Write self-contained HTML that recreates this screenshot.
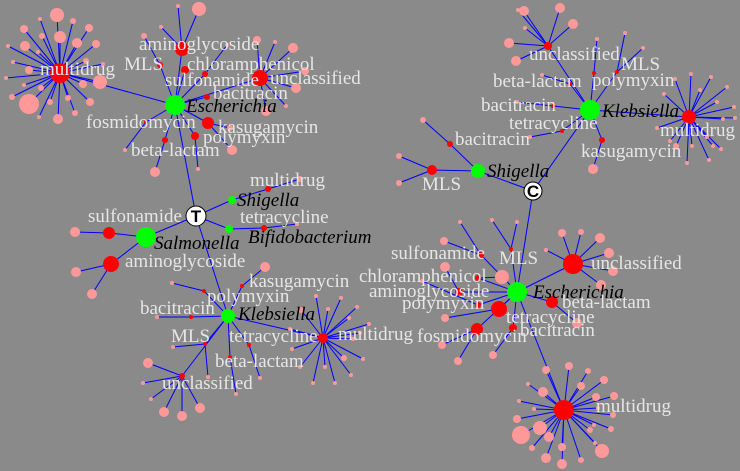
<!DOCTYPE html>
<html><head><meta charset="utf-8"><style>
html,body{margin:0;padding:0;background:#8a8a8a;}
svg{display:block;}
text{font-family:"Liberation Serif",serif;font-size:19px;}
</style></head><body>
<svg id="net" width="740" height="471" viewBox="0 0 740 471">
<rect width="740" height="471" fill="#8a8a8a"/>
<g id="edges"></g><g id="nodes"></g><g id="labels"></g>
</svg>
<script>
// hubs: [id, x, y, r, label]
const hubs = [["T",196,216,10,"T"],["C",533,191,9,"C"]];
// genera: [id, x, y, r, hub]
const genera = [
["tEsch",175,105,10,"T"],["tShig",232,200,4,"T"],["tBifi",229,229,4,"T"],["tSalm",146,237,10,"T"],["tKleb",228,316,7,"T"],
["cShig",478,171,7,"C"],["cKleb",590,110,10,"C"],["cEsch",517,292,10,"C"]];
// resistance classes: [x, y, r, genus, leaves [[x,y,r],...]]
const classes = [
[60,73,10,"tEsch",[[57,15,7],[40,19,2],[73,21,3],[24,29,4],[89,28,4],[42,36,3],[60,37,6],[8,46,2],[25,46,5],[77,43,5],[96,44,4],[38,52,2],[86,61,3],[103,64,2],[13,62,2],[29,70,4],[6,78,2],[24,85,2],[41,88,3],[83,84,4],[100,82,7],[12,97,3],[29,104,10],[50,102,3],[68,98,3],[90,102,4],[75,113,3],[39,117,2],[58,119,5]]],
[182,49,7,"tEsch",[[178,6,2],[199,9,7],[161,27,2]]],
[160,65,3,"tEsch",[[144,36,3]]],
[185,70,4,"tEsch",[]],
[205,74,3,"tEsch",[[227,45,2]]],
[260,78,8,"tEsch",[[257,40,4],[275,42,2],[293,48,5],[305,71,4],[296,88,5],[266,111,5],[286,106,2]]],
[207,97,3,"tEsch",[]],
[208,123,6,"tEsch",[[230,128,3],[232,150,5]]],
[195,136,4,"tEsch",[[198,169,2]]],
[165,140,3,"tEsch",[[155,172,5]]],
[146,122,2,"tEsch",[[125,150,2]]],
[268,189,3,"tShig",[[300,179,3]]],
[264,228,3,"tBifi",[[297,224,2]]],
[109,233,6,"tSalm",[[75,232,5]]],
[111,264,8,"tSalm",[[76,272,5],[92,294,5]]],
[242,286,2,"tKleb",[[265,267,5]]],
[204,291,2,"tKleb",[[172,283,2]]],
[191,317,2,"tKleb",[[157,317,2]]],
[205,344,2,"tKleb",[[173,347,2],[208,377,2]]],
[182,376,3,"tKleb",[[148,363,5],[143,383,2],[151,399,2],[164,412,5],[182,416,5],[200,408,5]]],
[230,357,2,"tKleb",[[236,394,2]]],
[249,345,2,"tKleb",[[260,378,2]]],
[323,338,5,"tKleb",[[316,296,2],[341,298,2],[328,309,2],[357,307,2],[349,318,2],[301,310,3],[290,329,2],[369,324,2],[353,339,2],[292,349,2],[363,359,2],[344,358,3],[300,367,2],[325,367,2],[351,375,2],[313,383,2],[335,383,2],[360,333,2]]],
[450,144,3,"cShig",[[423,120,3]]],
[432,170,5,"cShig",[[399,156,3],[399,183,3]]],
[548,46,4,"cKleb",[[524,11,5],[560,8,5],[573,24,5],[509,43,5],[516,61,5],[525,28,2],[518,10,2]]],
[689,117,7,"cKleb",[[691,74,2],[711,77,2],[675,79,2],[700,90,2],[727,87,2],[717,102,2],[734,107,2],[664,94,2],[657,128,2],[670,141,2],[676,146,3],[692,146,2],[707,137,2],[713,146,2],[721,149,2],[687,163,2],[709,160,2],[735,118,2],[723,119,2]]],
[617,72,2,"cKleb",[[643,48,2],[625,33,2]]],
[594,73,2,"cKleb",[[597,39,2]]],
[570,84,2,"cKleb",[[542,75,2]]],
[553,106,2,"cKleb",[[517,102,2]]],
[562,131,2,"cKleb",[[530,137,2]]],
[602,140,3,"cKleb",[[593,169,5]]],
[573,264,10,"cEsch",[[562,233,4],[581,232,3],[600,238,5],[609,253,5],[613,271,5],[601,285,5],[546,250,2]]],
[564,410,10,"cEsch",[[546,370,4],[569,366,4],[588,371,3],[528,384,2],[581,386,4],[604,380,4],[543,392,5],[596,397,4],[614,396,4],[519,401,2],[534,409,2],[613,415,3],[517,419,4],[540,428,7],[590,430,3],[611,429,3],[521,435,9],[549,437,5],[595,443,2],[532,448,3],[562,447,4],[602,451,7],[546,458,5],[581,460,3],[562,464,5],[598,408,2],[594,425,2]]],
[552,302,6,"cEsch",[[577,323,5]]],
[513,328,4,"cEsch",[[493,355,4]]],
[477,329,6,"cEsch",[[458,361,4],[442,345,4]]],
[499,309,8,"cEsch",[[445,318,4]]],
[478,305,3,"cEsch",[[422,281,2]]],
[459,292,4,"cEsch",[[445,267,5]]],
[478,278,3,"cEsch",[[502,277,7]]],
[481,255,3,"cEsch",[[444,241,4],[460,222,2]]],
[511,249,2,"cEsch",[[492,220,2],[517,222,2]]]];
// labels: [x, y, text, italic]
const labels = [
[40,75,"multidrug",0],[139,50,"aminoglycoside",0],[124,70,"MLS",0],[187,70,"chloramphenicol",0],[165,86,"sulfonamide",0],[270,84,"unclassified",0],[213,99,"bacitracin",0],[186,112,"Escherichia",1],[86,128,"fosmidomycin",0],[218,133,"kasugamycin",0],[203,143,"polymyxin",0],[131,156,"beta-lactam",0],[250,186,"multidrug",0],[237,206,"Shigella",1],[88,222,"sulfonamide",0],[240,223,"tetracycline",0],[248,243,"Bifidobacterium",1],[154,249,"Salmonella",1],[125,267,"aminoglycoside",0],[249,287,"kasugamycin",0],[207,302,"polymyxin",0],[140,314,"bacitracin",0],[238,320,"Klebsiella",1],[171,342,"MLS",0],[229,342,"tetracycline",0],[338,340,"multidrug",0],[215,367,"beta-lactam",0],[162,389,"unclassified",0],
[529,60,"unclassified",0],[621,70,"MLS",0],[493,87,"beta-lactam",0],[592,86,"polymyxin",0],[481,111,"bacitracin",0],[602,117,"Klebsiella",1],[509,129,"tetracycline",0],[660,136,"multidrug",0],[455,145,"bacitracin",0],[581,157,"kasugamycin",0],[487,177,"Shigella",1],[422,190,"MLS",0],[391,259,"sulfonamide",0],[499,264,"MLS",0],[591,269,"unclassified",0],[359,282,"chloramphenicol",0],[369,297,"aminoglycoside",0],[533,298,"Escherichia",1],[402,309,"polymyxin",0],[562,308,"beta-lactam",0],[506,323,"tetracycline",0],[520,336,"bacitracin",0],[417,342,"fosmidomycin",0],[596,412,"multidrug",0]];

const NS="http://www.w3.org/2000/svg";
const E=document.getElementById('edges'),N=document.getElementById('nodes'),L=document.getElementById('labels');
function line(a,b,c,d){const l=document.createElementNS(NS,'line');
l.setAttribute('x1',a);l.setAttribute('y1',b);l.setAttribute('x2',c);l.setAttribute('y2',d);
l.setAttribute('stroke','#0000ff');l.setAttribute('stroke-width','1');


E.appendChild(l);}
function circ(x,y,r,f,name){const c=document.createElementNS(NS,'circle');
c.setAttribute('cx',x);c.setAttribute('cy',y);c.setAttribute('r',r);c.setAttribute('fill',f);


N.appendChild(c);return c;}
const pos={};
hubs.forEach(h=>pos[h[0]]=h);
genera.forEach(g=>{pos[g[0]]=g;const h=pos[g[4]];line(h[1],h[2],g[1],g[2]);});
classes.forEach(c=>{const g=pos[c[3]];line(g[1],g[2],c[0],c[1]);c[4].forEach(lf=>line(c[0],c[1],lf[0],lf[1]));});
classes.forEach(c=>{c[4].forEach(lf=>circ(lf[0],lf[1],lf[2],'#ff9999','leaf-node'));});
classes.forEach(c=>circ(c[0],c[1],c[2],'#ff0000','resistance-node'));
genera.forEach(g=>circ(g[1],g[2],g[3],'#00ff00','genus-node'));
hubs.forEach(h=>{const c=circ(h[1],h[2],h[3],'#ffffff','hub-node');c.setAttribute('stroke','#000');c.setAttribute('stroke-width','1');
const t=document.createElementNS(NS,'text');t.setAttribute('x',h[1]);t.setAttribute('y',h[2]+6);t.setAttribute('text-anchor','middle');
t.setAttribute('style','font-family:"Liberation Sans",sans-serif;font-size:17px;font-weight:bold');t.textContent=h[4];


N.appendChild(t);});
labels.forEach(l=>{const t=document.createElementNS(NS,'text');t.setAttribute('x',l[0]);t.setAttribute('y',l[1]);
t.setAttribute('fill',l[3]?'#000000':'#e6e6e6');if(l[3]){t.setAttribute('font-style','italic');t.setAttribute('font-size','21px');}t.textContent=l[2];


L.appendChild(t);});
</script>
</body></html>
